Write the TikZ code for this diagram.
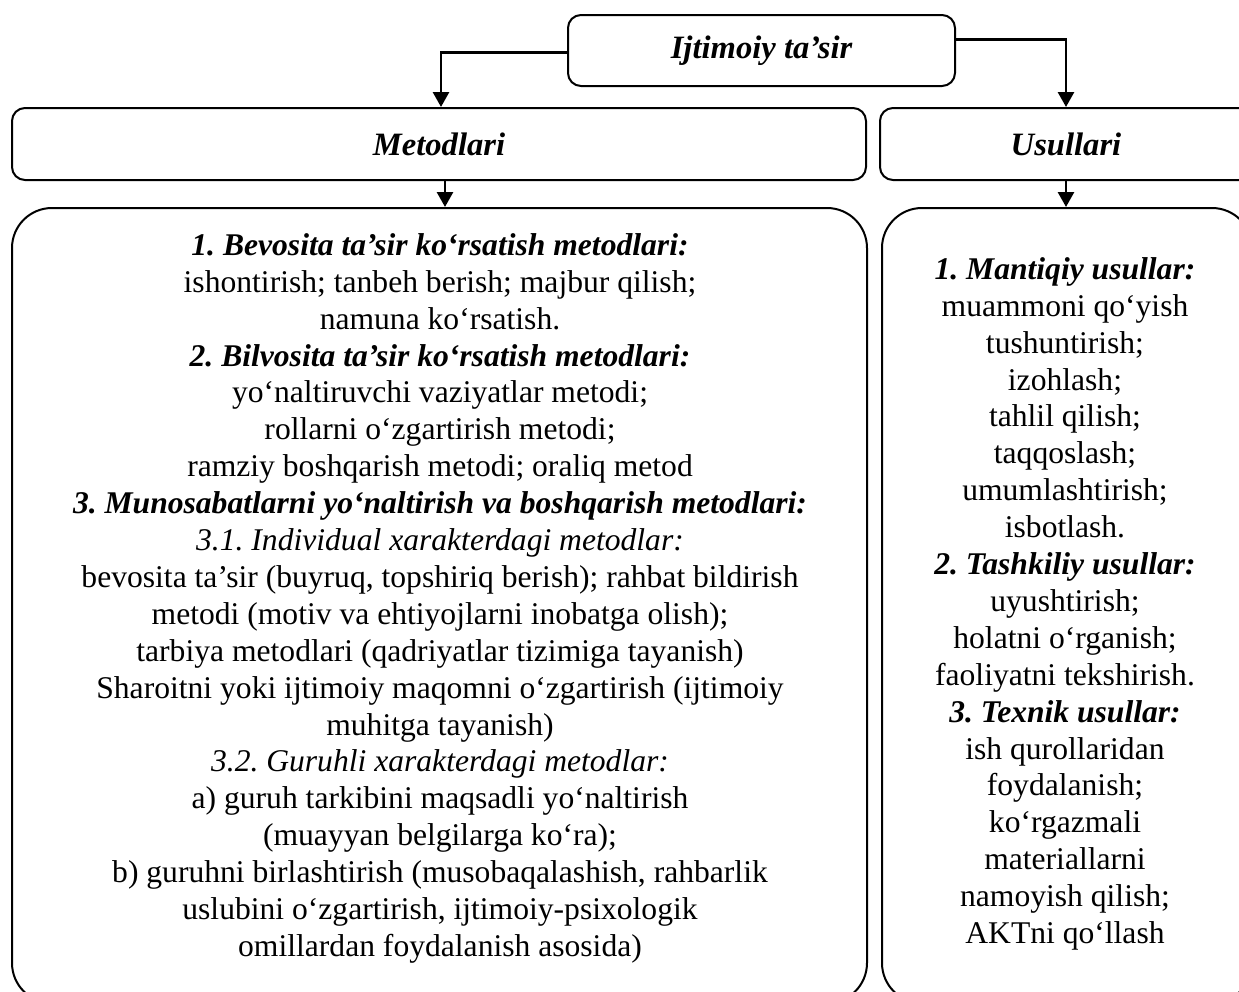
\documentclass[tikz,border=0pt]{standalone}
\usepackage{fontspec}
\setmainfont{Liberation Serif}
\usetikzlibrary{arrows.meta}
\frenchspacing
\begin{document}
\frenchspacing
\begin{tikzpicture}[x=0.5pt,y=-0.5pt,
  box/.style={draw, line width=1pt, rounded corners=6.5pt, inner sep=0pt},
  bigbox/.style={draw, line width=1pt, rounded corners=20pt, inner sep=0pt},
  lbl/.style={font=\fontsize{16.3}{19}\selectfont\bfseries\itshape},
  body/.style={align=center, inner sep=0pt, font=\fontsize{15.8}{18.45}\selectfont\frenchspacing},
  arr/.style={line width=1.4pt, -{Triangle[length=7.5pt,width=8pt]}}]
\clip (0,0) rectangle (1239,992);
\node[box, lbl, minimum width=193.5pt, minimum height=35.5pt] (top) at (761.5,50.5) {Ijtimoiy ta’sir};
\node[box, lbl, minimum width=427pt, minimum height=36pt] (met) at (439,144) {Metodlari};
\node[box, lbl, minimum width=186pt, minimum height=36pt] (us) at (1066,144) {Usullari};
\node[bigbox, minimum width=427.5pt, minimum height=397.5pt] (lbox) at (439.5,605.5) {};
\node[bigbox, minimum width=185pt, minimum height=397.5pt] (rbox) at (1067,605.5) {};
\draw[arr] ([yshift=-1.1pt]top.west) -| ([xshift=1pt]met.north);
\draw[arr] ([yshift=5.6pt]top.east) -| (us.north);
\draw[arr] ([xshift=3pt]met.south) -- ([xshift=3pt]met.south |- lbox.north);
\draw[arr] (us.south) -- (us.south |- rbox.north);
\node[body, anchor=north] (ltext) at (440,233) {%
\textbf{\textit{1. Bevosita ta’sir ko‘rsatish metodlari:}}\\
ishontirish; tanbeh berish; majbur qilish;\\
namuna ko‘rsatish.\\
\textbf{\textit{2. Bilvosita ta’sir ko‘rsatish metodlari:}}\\
yo‘naltiruvchi vaziyatlar metodi;\\
rollarni o‘zgartirish metodi;\\
ramziy boshqarish metodi; oraliq metod\\
\textbf{\textit{3. Munosabatlarni yo‘naltirish va boshqarish metodlari:}}\\
\textit{3.1. Individual xarakterdagi metodlar:}\\
bevosita ta’sir (buyruq, topshiriq berish); rahbat bildirish\\
metodi (motiv va ehtiyojlarni inobatga olish);\\
tarbiya metodlari (qadriyatlar tizimiga tayanish)\\
Sharoitni yoki ijtimoiy maqomni o‘zgartirish (ijtimoiy\\
muhitga tayanish)\\
\textit{3.2. Guruhli xarakterdagi metodlar:}\\
a) guruh tarkibini maqsadli yo‘naltirish\\
(muayyan belgilarga ko‘ra);\\
b) guruhni birlashtirish (musobaqalashish, rahbarlik\\
uslubini o‘zgartirish, ijtimoiy-psixologik\\
omillardan foydalanish asosida)};
\node[body, anchor=north] (rtext) at (1065,257) {%
\textbf{\textit{1. Mantiqiy usullar:}}\\
muammoni qo‘yish\\
tushuntirish;\\
izohlash;\\
tahlil qilish;\\
taqqoslash;\\
umumlashtirish;\\
isbotlash.\\
\textbf{\textit{2. Tashkiliy usullar:}}\\
uyushtirish;\\
holatni o‘rganish;\\
faoliyatni tekshirish.\\
\textbf{\textit{3. Texnik usullar:}}\\
ish qurollaridan\\
foydalanish;\\
ko‘rgazmali\\
materiallarni\\
namoyish qilish;\\
AKTni qo‘llash};
\end{tikzpicture}
\end{document}
